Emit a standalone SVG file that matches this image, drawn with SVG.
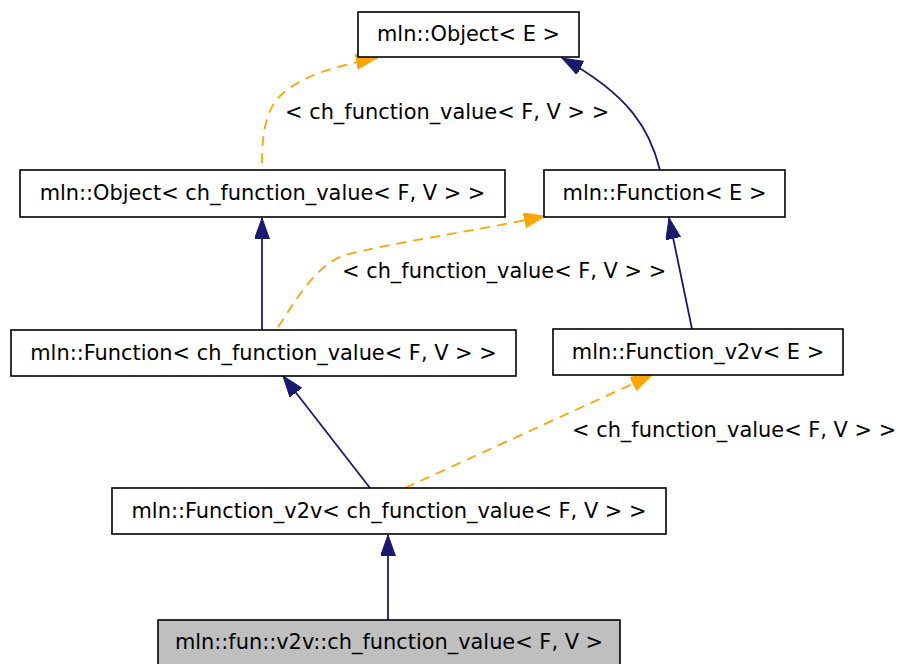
<svg xmlns="http://www.w3.org/2000/svg" width="899" height="664" viewBox="0 0 899 664">
<style>
.box{fill:#ffffff;stroke:#000000;stroke-width:1.6}
.cur{fill:#bfbfbf}
text{font-family:"DejaVu Sans","Liberation Sans",sans-serif;font-size:20.9px;fill:#000000}
.nt{text-anchor:middle}
.inh{fill:none;stroke:#191970;stroke-width:1.8}
.tpl{fill:none;stroke:#ffa500;stroke-width:1.8;stroke-dasharray:10,7}
</style>
<defs>
<marker id="an" markerUnits="userSpaceOnUse" markerWidth="24" markerHeight="18" refX="21" refY="7.5" orient="auto">
<path d="M0,0 L21,7.5 L0,15 z" fill="#191970" stroke="#191970"/>
</marker>
<marker id="ao" markerUnits="userSpaceOnUse" markerWidth="24" markerHeight="18" refX="21" refY="7.5" orient="auto">
<path d="M0,0 L21,7.5 L0,15 z" fill="#ffa500" stroke="#ffa500"/>
</marker>
</defs>
<g id="connectors">
<path class="tpl" d="M262,163 C262,140 264,112 280,96 C300,77 330,67 377,58" marker-end="url(#ao)"/>
<path class="inh" d="M660,170 C650,130 630,95 562,58" marker-end="url(#an)"/>
<path class="tpl" d="M278,327 C295,302 315,265 345,255 C390,243 470,232 545,216" marker-end="url(#ao)"/>
<path class="inh" d="M262,330 L262,218" marker-end="url(#an)"/>
<path class="inh" d="M692,329 L669,218" marker-end="url(#an)"/>
<path class="inh" d="M370,488 L283,376" marker-end="url(#an)"/>
<path class="tpl" d="M405,488 L652,375" marker-end="url(#ao)"/>
<path class="inh" d="M388,620 L388,535" marker-end="url(#an)"/>
<text x="285" y="119">&lt; ch_function_value&lt; F, V &gt; &gt;</text>
<text x="342" y="278">&lt; ch_function_value&lt; F, V &gt; &gt;</text>
<text x="572" y="437">&lt; ch_function_value&lt; F, V &gt; &gt;</text>
</g>
<g id="node_object_e">
<rect class="box" x="358" y="12" width="221" height="45"/>
<text class="nt" x="468.5" y="41">mln::Object&lt; E &gt;</text>
</g>
<g id="node_object_ch">
<rect class="box" x="20" y="170" width="485" height="47"/>
<text class="nt" x="262.5" y="200">mln::Object&lt; ch_function_value&lt; F, V &gt; &gt;</text>
</g>
<g id="node_function_e">
<rect class="box" x="544" y="170" width="241" height="47"/>
<text class="nt" x="664.5" y="200">mln::Function&lt; E &gt;</text>
</g>
<g id="node_function_ch">
<rect class="box" x="11" y="330" width="505" height="46"/>
<text class="nt" x="263.5" y="360">mln::Function&lt; ch_function_value&lt; F, V &gt; &gt;</text>
</g>
<g id="node_function_v2v_e">
<rect class="box" x="553" y="329" width="290" height="46"/>
<text class="nt" x="698" y="359">mln::Function_v2v&lt; E &gt;</text>
</g>
<g id="node_function_v2v_ch">
<rect class="box" x="112" y="488" width="554" height="46"/>
<text class="nt" x="389" y="518">mln::Function_v2v&lt; ch_function_value&lt; F, V &gt; &gt;</text>
</g>
<g id="node_ch_function_value">
<rect class="box cur" x="158" y="620" width="462" height="46"/>
<text class="nt" x="389" y="649">mln::fun::v2v::ch_function_value&lt; F, V &gt;</text>
</g>
</svg>
